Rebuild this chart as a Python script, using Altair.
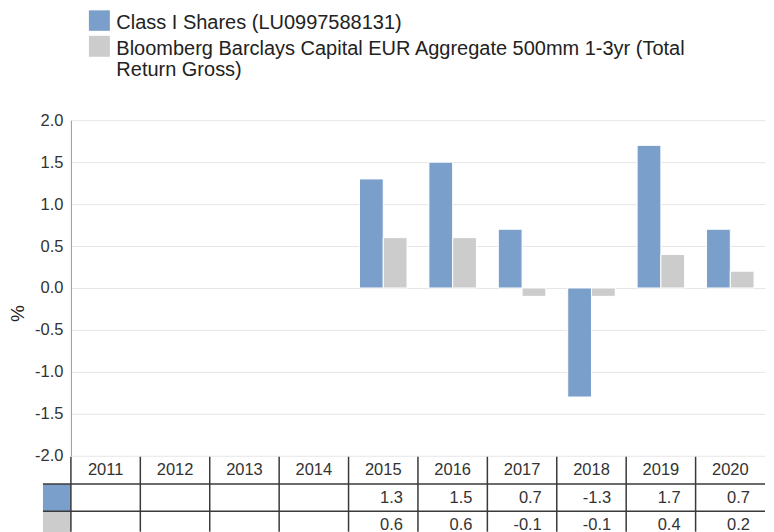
import altair as alt
import pandas as pd

years = ["2011", "2012", "2013", "2014", "2015", "2016", "2017", "2018", "2019", "2020"]
series = ["Class I Shares (LU0997588131)",
          "Bloomberg Barclays Capital EUR Aggregate 500mm 1-3yr (Total Return Gross)"]
fund_vals = [None, None, None, None, 1.3, 1.5, 0.7, -1.3, 1.7, 0.7]
bench_vals = [None, None, None, None, 0.6, 0.6, -0.1, -0.1, 0.4, 0.2]
colors = ["#7a9fcb", "#cccccc"]
y_ticks = [-2.0, -1.5, -1.0, -0.5, 0.0, 0.5, 1.0, 1.5, 2.0]
row_keys = ["hdr", "s1", "s2"]

FONT = "Liberation Sans"
W, H = 695, 336

# bar data
bar_rows = []
for s, vals in zip(series, [fund_vals, bench_vals]):
    for y, v in zip(years, vals):
        if v is not None:
            bar_rows.append({"year": y, "series": s, "value": v})
bars_df = pd.DataFrame(bar_rows)

# table data
tab_rows = []
for i, y in enumerate(years):
    tab_rows.append({"year": y, "row": "hdr", "txt": y, "kind": "hdr"})
    for key, vals in zip(["s1", "s2"], [fund_vals, bench_vals]):
        v = vals[i]
        tab_rows.append({"year": y, "row": key,
                         "txt": "" if v is None else f"{v:.1f}", "kind": "val"})
tab_df = pd.DataFrame(tab_rows)
years_df = pd.DataFrame({"year": years})
cells_df = pd.DataFrame({"row": ["s1", "s2"], "series": series})
legend_df = pd.DataFrame({"series": series,
                          "label": [series[0],
                                    "Bloomberg Barclays Capital EUR Aggregate 500mm 1-3yr (Total\nReturn Gross)"]})

xscale = alt.Scale(domain=years, paddingInner=0, paddingOuter=0)
xenc = alt.X("year:N", scale=xscale, axis=None, title=None)
cscale = alt.Scale(domain=series, range=colors)
rowscale = alt.Scale(domain=row_keys, range=[337, 419], paddingInner=0, paddingOuter=0)

bars = alt.Chart(bars_df).mark_bar(stroke="white", strokeWidth=1).encode(
    x=xenc,
    xOffset=alt.XOffset("series:N", scale=alt.Scale(domain=series, paddingOuter=0.46, paddingInner=0)),
    y=alt.Y("value:Q", scale=alt.Scale(domain=[-2, 2], nice=False, zero=False),
            axis=alt.Axis(values=y_ticks, labelExpr="replace(format(datum.value, '.1f'), '\u2212', '-')",
                          title="%",
                          grid=True, gridColor="#e6e6e6", gridWidth=1,
                          domainColor="#999999", ticks=False, labelPadding=8,
                          labelFontSize=16.5, labelColor="#333333", labelFont=FONT,
                          titleFontSize=19, titleFontWeight="normal", titleFont=FONT,
                          titleColor="#222222", titleAngle=270, titleX=-53.5, titleY=193,
                          titleAlign="center", titleBaseline="middle")),
    color=alt.Color("series:N", scale=cscale, legend=None),
)

# table grid lines
vlines = alt.Chart(years_df).mark_rule(color="#3a3a3a", strokeWidth=1.5).encode(
    x=alt.X("year:N", scale=xscale, axis=None, bandPosition=0),
    y=alt.value(337), y2=alt.value(412),
)
hlines = alt.Chart(cells_df).mark_rule(color="#3a3a3a", strokeWidth=1.5).encode(
    y=alt.Y("row:N", scale=rowscale, axis=None, bandPosition=0),
    x=alt.value(-28), x2=alt.value(W),
)
cells = alt.Chart(cells_df).mark_rect().encode(
    y=alt.Y("row:N", scale=rowscale, axis=None),
    x=alt.value(-28), x2=alt.value(0),
    color=alt.Color("series:N", scale=cscale, legend=None),
)
hdr_text = alt.Chart(tab_df).transform_filter("datum.kind == 'hdr'").mark_text(
    fontSize=16.5, font=FONT, color="#333333", baseline="middle", align="center"
).encode(x=xenc, y=alt.Y("row:N", scale=rowscale, axis=None), text="txt:N")
val_text = alt.Chart(tab_df).transform_filter("datum.kind == 'val'").mark_text(
    fontSize=16.5, font=FONT, color="#333333", baseline="middle", align="right", dx=-15
).encode(x=alt.X("year:N", scale=xscale, axis=None, bandPosition=1),
         y=alt.Y("row:N", scale=rowscale, axis=None), text="txt:N")

# legend
leg1_sw = alt.Chart(legend_df).transform_filter(alt.datum.series == series[0]).mark_rect().encode(
    x=alt.value(18), x2=alt.value(39), y=alt.value(-110), y2=alt.value(-89.5),
    color=alt.Color("series:N", scale=cscale, legend=None))
leg2_sw = alt.Chart(legend_df).transform_filter(alt.datum.series == series[1]).mark_rect().encode(
    x=alt.value(18), x2=alt.value(39), y=alt.value(-84.5), y2=alt.value(-63.5),
    color=alt.Color("series:N", scale=cscale, legend=None))
leg1_tx = alt.Chart(legend_df).transform_filter(alt.datum.series == series[0]).mark_text(
    fontSize=20, font=FONT, color="#222222", align="left", baseline="alphabetic"
).encode(x=alt.value(45.5), y=alt.value(-91.7), text="label:N")
leg2_tx = alt.Chart(legend_df).transform_filter(alt.datum.series == series[1]).mark_text(
    fontSize=20, font=FONT, color="#222222", align="left", baseline="alphabetic",
    lineBreak="\n", lineHeight=20.7
).encode(x=alt.value(45.5), y=alt.value(-65), text="label:N")

chart = alt.layer(
    bars, cells, vlines, hlines, hdr_text, val_text, leg1_sw, leg2_sw, leg1_tx, leg2_tx
).resolve_scale(y="independent").properties(
    width=W, height=H, padding={"left": 0, "top": 2, "right": 0, "bottom": 0}
).configure_view(stroke=None)

chart.save("out.html", embed_options={"renderer": "svg", "actions": False})
